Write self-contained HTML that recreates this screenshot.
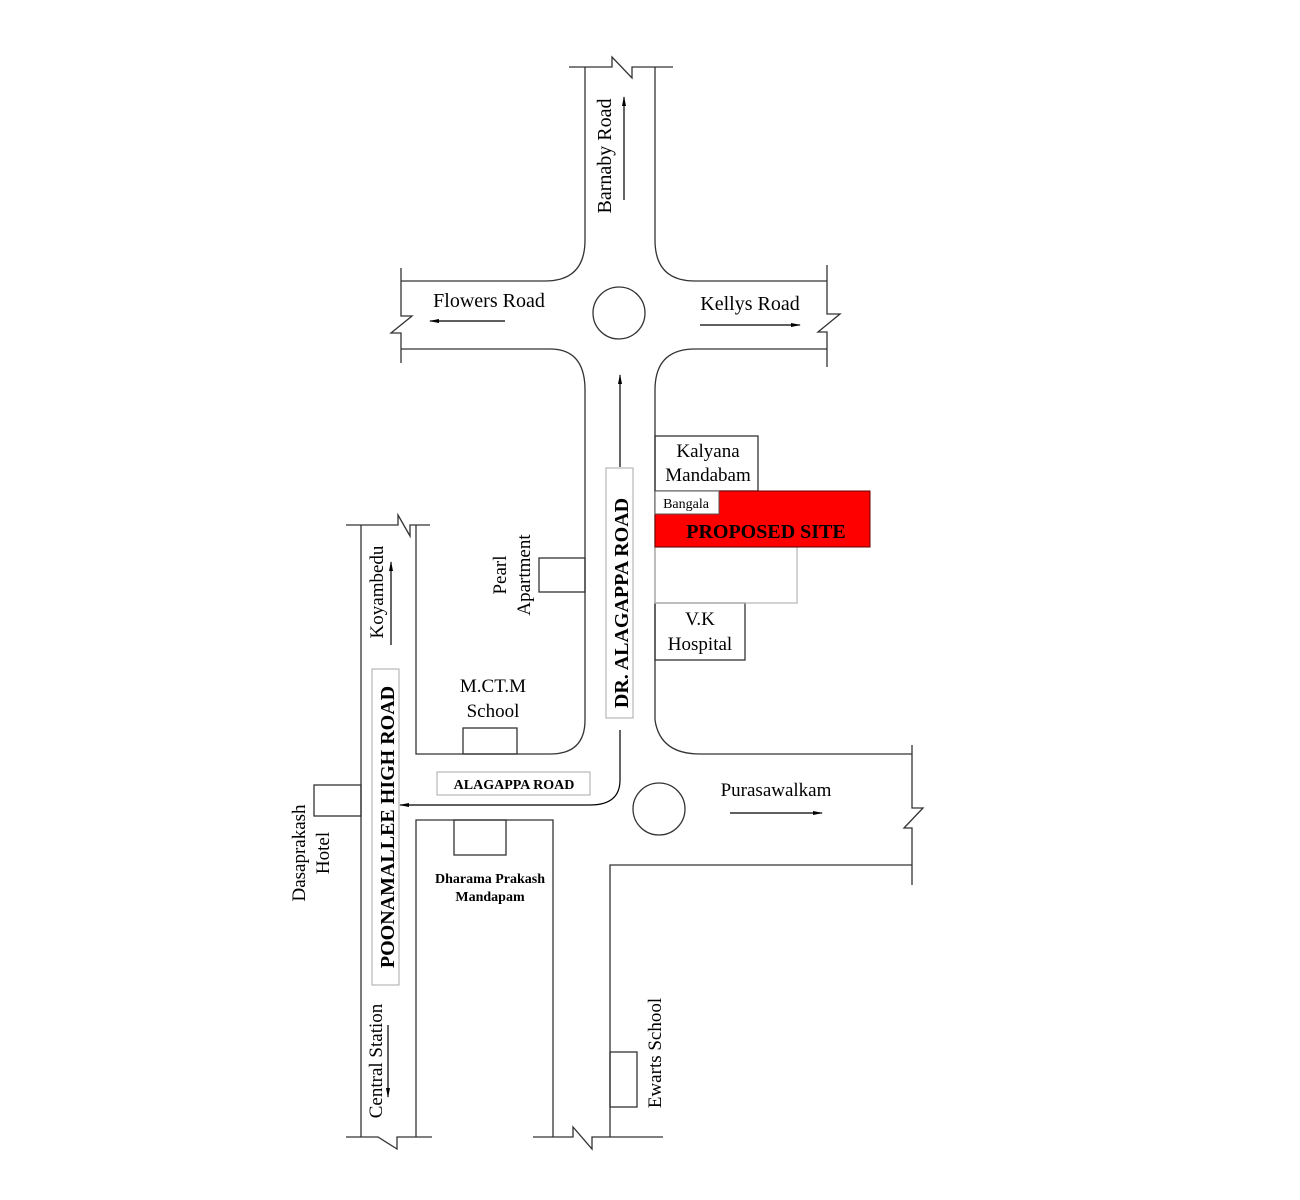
<!DOCTYPE html>
<html><head><meta charset="utf-8"><style>
html,body{margin:0;padding:0;background:#fff;}
svg{display:block;}
text{font-family:"Liberation Serif",serif;fill:#000;}
</style></head><body>
<svg width="1300" height="1200" viewBox="0 0 1300 1200" xmlns="http://www.w3.org/2000/svg">
<defs><marker id="ah" markerWidth="10" markerHeight="6" refX="9" refY="3" orient="auto" markerUnits="userSpaceOnUse"><path d="M0,1 L10,3 L0,5 z" fill="#000"/></marker></defs>
<g fill="none" stroke="#333" stroke-width="1.3">
<path d="M569,67 H612 L612,57 L632,78 L632,67 H673"/>
<path d="M585,67 V240 Q585,281 545,281 H401"/>
<path d="M655,67 V240 Q655,281 695,281 H827"/>
<path d="M401,268 V316 L412,316 L391,333 L401,333 V363"/>
<path d="M827,265 V314 L840,314 L818,332 L827,332 V367"/>
<path d="M401,349 H550 Q585,349 585,390 V720 Q585,754 550,754 H416 V525"/>
<path d="M827,349 H695 Q655,349 655,390 V720 Q660,754 700,754 H912"/>
<circle cx="619" cy="313" r="26"/>
<circle cx="659" cy="809" r="26"/>
<path d="M912,745 V808 L923,808 L904,828 L912,828 V885"/>
<path d="M912,865 H610 V1137"/>
<path d="M533,1137 H573 L573,1127 L592,1149 L592,1137 H663"/>
<path d="M346,525 H398 L398,515 L410,536 L410,525 H430"/>
<path d="M361,525 V1137"/>
<path d="M416,1137 V820 H553 V1137"/>
<path d="M346,1137 H378 L397,1149 L397,1137 H432"/>
<rect x="539" y="558" width="46" height="34"/>
<rect x="463" y="728" width="54" height="26"/>
<rect x="454" y="820" width="52" height="35"/>
<rect x="314" y="785" width="47" height="31"/>
<rect x="610" y="1052" width="27" height="55"/>
<rect x="655" y="436" width="103" height="55"/>
<rect x="655" y="603" width="90" height="57"/>
</g>
<rect x="655" y="547" width="142" height="56" fill="none" stroke="#bbb" stroke-width="1.3"/>
<rect x="655" y="491" width="215" height="56" fill="#f00" stroke="#600" stroke-width="1"/>
<rect x="655" y="491" width="64" height="23" fill="#fff" stroke="#555" stroke-width="1"/>
<rect x="606" y="468" width="27" height="250" fill="#fff" stroke="#aaa"/>
<rect x="372" y="669" width="27" height="316" fill="#fff" stroke="#aaa"/>
<rect x="437" y="772" width="153" height="23" fill="#fff" stroke="#aaa"/>
<g stroke="#000" stroke-width="1.2" fill="none">
<line x1="624" y1="200" x2="624" y2="97" marker-end="url(#ah)"/>
<line x1="505" y1="321" x2="430" y2="321" marker-end="url(#ah)"/>
<line x1="700" y1="325" x2="800" y2="325" marker-end="url(#ah)"/>
<line x1="620" y1="467" x2="620" y2="375" marker-end="url(#ah)"/>
<line x1="391" y1="645" x2="391" y2="562" marker-end="url(#ah)"/>
<line x1="388" y1="1025" x2="388" y2="1097" marker-end="url(#ah)"/>
<line x1="730" y1="813" x2="822" y2="813" marker-end="url(#ah)"/>
<path d="M620,730 V780 Q620,805 590,805 H400" marker-end="url(#ah)"/>
</g>
<text x="489" y="307" font-size="20" text-anchor="middle">Flowers Road</text>
<text x="750" y="310" font-size="20" text-anchor="middle">Kellys Road</text>
<text transform="translate(611,156) rotate(-90)" font-size="20" text-anchor="middle">Barnaby Road</text>
<text x="708" y="457" font-size="19" text-anchor="middle">Kalyana</text>
<text x="708" y="481" font-size="19" text-anchor="middle">Mandabam</text>
<text x="686" y="508" font-size="14" text-anchor="middle">Bangala</text>
<text x="766" y="538" font-size="20" font-weight="bold" text-anchor="middle">PROPOSED SITE</text>
<text x="700" y="625" font-size="19" text-anchor="middle">V.K</text>
<text x="700" y="650" font-size="19" text-anchor="middle">Hospital</text>
<text transform="translate(628,603) rotate(-90)" font-size="20" font-weight="bold" text-anchor="middle">DR. ALAGAPPA ROAD</text>
<text transform="translate(506,575) rotate(-90)" font-size="19" text-anchor="middle">Pearl</text>
<text transform="translate(530,575) rotate(-90)" font-size="19" text-anchor="middle">Apartment</text>
<text transform="translate(383,592) rotate(-90)" font-size="19" text-anchor="middle">Koyambedu</text>
<text x="493" y="692" font-size="19" text-anchor="middle">M.CT.M</text>
<text x="493" y="717" font-size="19" text-anchor="middle">School</text>
<text x="514" y="789" font-size="14" font-weight="bold" text-anchor="middle">ALAGAPPA ROAD</text>
<text x="776" y="796" font-size="19" text-anchor="middle">Purasawalkam</text>
<text transform="translate(394,827) rotate(-90)" font-size="20" font-weight="bold" text-anchor="middle">POONAMALLEE HIGH ROAD</text>
<text transform="translate(305,853) rotate(-90)" font-size="19" text-anchor="middle">Dasaprakash</text>
<text transform="translate(329,853) rotate(-90)" font-size="19" text-anchor="middle">Hotel</text>
<text x="490" y="883" font-size="14" font-weight="bold" text-anchor="middle">Dharama Prakash</text>
<text x="490" y="901" font-size="14" font-weight="bold" text-anchor="middle">Mandapam</text>
<text transform="translate(382,1061) rotate(-90)" font-size="19" text-anchor="middle">Central Station</text>
<text transform="translate(661,1053) rotate(-90)" font-size="19" text-anchor="middle">Ewarts School</text>
</svg>
</body></html>
